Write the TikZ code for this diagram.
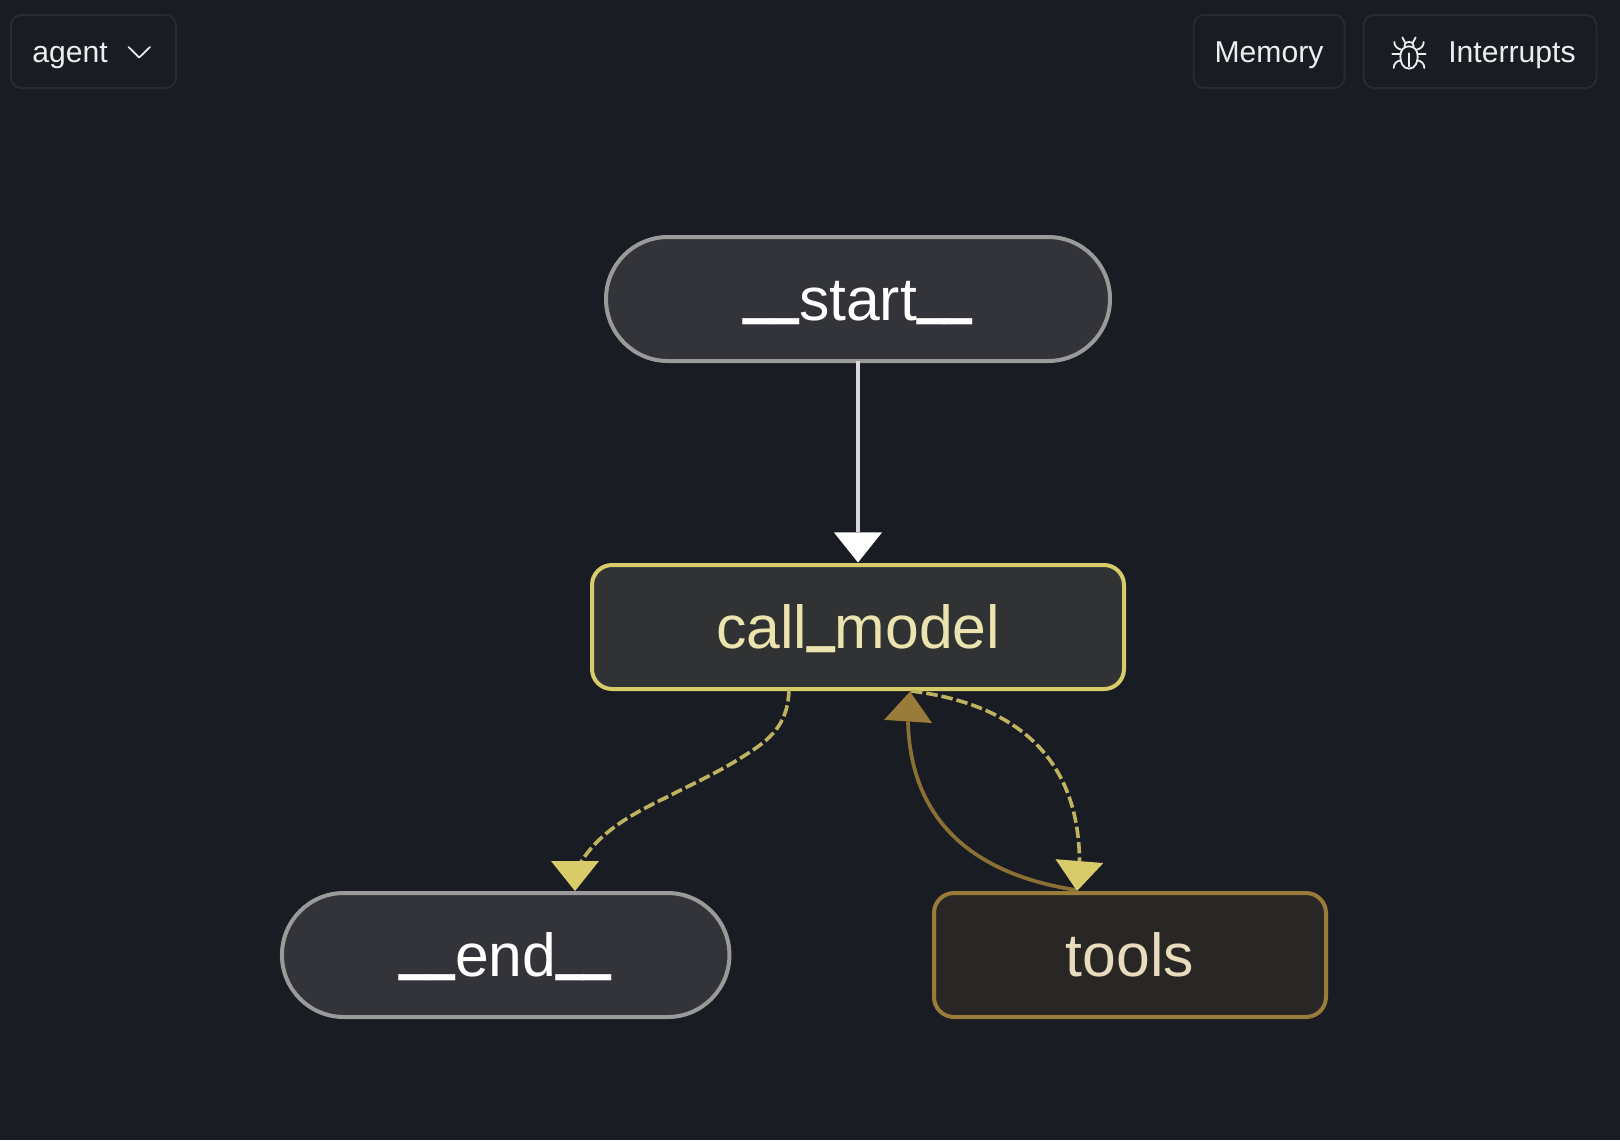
\documentclass[tikz,border=0pt]{standalone}
\usepackage{fontspec}
\usepackage{graphicx}
\setmainfont{Liberation Sans}
\usetikzlibrary{arrows.meta}
\definecolor{bgc}{HTML}{191C23}
\definecolor{barline}{HTML}{282A2D}
\definecolor{bartext}{HTML}{EDEDED}
\definecolor{pillfill}{HTML}{333439}
\definecolor{pillline}{HTML}{9A9A9B}
\definecolor{callfill}{HTML}{313233}
\definecolor{callline}{HTML}{D8CB6A}
\definecolor{calltext}{HTML}{ECE4AE}
\definecolor{toolfill}{HTML}{292725}
\definecolor{toolline}{HTML}{9A7C3A}
\definecolor{tooltext}{HTML}{E8DCBC}
\definecolor{dashc}{HTML}{BFB35F}
\definecolor{solidc}{HTML}{8A7035}
\definecolor{startline}{HTML}{D8D8D8}
\newcommand{\us}{\raisebox{.25em}{\scalebox{.82}[1.6]{\_}}}
\tikzset{
  graphnode/.style={draw,line width=3pt,outer sep=0pt,inner sep=0pt,minimum height=93pt,
    text height=36.5pt,text depth=4.5pt,font=\fontsize{45.5pt}{50pt}\selectfont,align=center},
  pill/.style={graphnode,rounded corners=46.4pt,fill=pillfill,draw=pillline,text=white},
  callbox/.style={graphnode,rounded corners=15pt,fill=callfill,draw=callline,text=calltext},
  toolbox/.style={graphnode,rounded corners=15pt,fill=toolfill,draw=toolline,text=tooltext},
  barbox/.style={draw=barline,line width=1.5pt,rounded corners=8pt,minimum height=54.75pt,outer sep=0pt,inner sep=0pt},
  bartxt/.style={anchor=base west,inner sep=0pt,text=bartext,font=\fontsize{22.6pt}{26pt}\selectfont},
  icon/.style={draw=bartext,line width=1.35pt,line cap=round,line join=round},
  headw/.style={-{Triangle[length=22.5pt,width=36pt,fill=white,color=white,line width=0pt]}},
  heady/.style={-{Triangle[length=22.5pt,width=36pt,fill=callline,color=callline,line width=0pt]}},
  headb/.style={-{Triangle[length=22.5pt,width=36pt,fill=toolline,color=toolline,line width=0pt]}},
  dashline/.style={draw=dashc,line width=2.7pt,dash pattern=on 8.6pt off 3pt},
  dashedge/.style={dashline,heady},
  solidedge/.style={draw=solidc,line width=2.8pt,headb},
  startedge/.style={draw=startline,line width=3pt,headw,shorten >=1.9pt},
}
\begin{document}
\begin{tikzpicture}[x=0.75pt,y=-0.75pt]
\useasboundingbox (0,0) rectangle (1620,1140);
\fill[bgc] (0,0) rectangle (1620,1140);
% toolbar
\node[barbox,minimum width=124pt] (agentbox) at (93.5,51.5) {};
\node[bartxt] (agentlabel) at (32,62.3) {agent};
\draw[draw=bartext,line width=1.3pt,line cap=round,line join=round] (128.5,47) -- (139.2,57.5) -- (150,47);
\node[barbox,minimum width=113.25pt,text=bartext,font=\fontsize{22.6pt}{26pt}\selectfont,text height=16pt,text depth=0pt] (memorybox) at (1269,51.5) {Memory};
\node[barbox,minimum width=174.75pt] (interruptsbox) at (1480,51.5) {};
\node[bartxt] (interruptslabel) at (1448,62.3) {Interrupts};
% bug icon
\begin{scope}[shift={(1385,28)},x=0.25pt,y=-0.25pt]
  \draw[icon] (72,122) .. controls (52,122) and (46,100) .. (46,86) .. controls (46,66) and (56,55) .. (72,55)
    .. controls (88,55) and (98,66) .. (98,86) .. controls (98,100) and (92,122) .. (72,122) -- cycle;
  \draw[icon] (58,55) .. controls (58,48) and (62,42) .. (72,42) .. controls (82,42) and (86,48) .. (86,55);
  \draw[icon] (52,28) -- (60,43);
  \draw[icon] (92,28) -- (84,43);
  \draw[icon] (72,76) -- (72,115);
  \draw[icon] (22,78) -- (44,78);
  \draw[icon] (100,78) -- (122,78);
  \draw[icon] (28,42) .. controls (28,54) and (36,62) .. (49,65);
  \draw[icon] (116,42) .. controls (116,54) and (108,62) .. (95,65);
  \draw[icon] (26,120) .. controls (26,106) and (36,98) .. (48,97);
  \draw[icon] (118,120) .. controls (118,106) and (108,98) .. (96,97);
\end{scope}
% nodes
\node[pill,minimum width=378pt] (start) at (858,299) {\us\us start\us\us};
\node[callbox,minimum width=399pt] (call) at (858,627) {call\us model};
\node[pill,minimum width=335.6pt] (end) at (505.7,955) {\us\us end\us\us};
\node[toolbox,minimum width=294pt] (tools) at (1130,955) {tools};
% connector end points on the node borders
\coordinate (callA) at (789,690);
\coordinate (callB) at (911,691);
\coordinate (callC) at (910,691.5);
\coordinate (endbase) at (581,862);
\coordinate (endheadbase) at (575,861);
\coordinate (endtip) at (575,891);
\coordinate (toolA) at (1077,891);
\coordinate (toolB) at (1076,890);
% connectors
\draw[startedge] (start.south) -- (call.north);
\draw[dashline] (callA) .. controls (788,720) and (775,736) .. (750,752)
   .. controls (720,772) and (690,785) .. (665,798)
   .. controls (630,815) and (600,832) .. (endbase);
\draw[heady,draw=callline,line width=0pt] (endheadbase) -- (endtip);
\draw[solidedge] (toolB) .. controls (985,876) and (911,830) .. (908,722) -- (callC);
\draw[dashedge] (callB) .. controls (1000,702) and (1078,745) .. (1079.5,860) -- (toolA);
\end{tikzpicture}
\end{document}
